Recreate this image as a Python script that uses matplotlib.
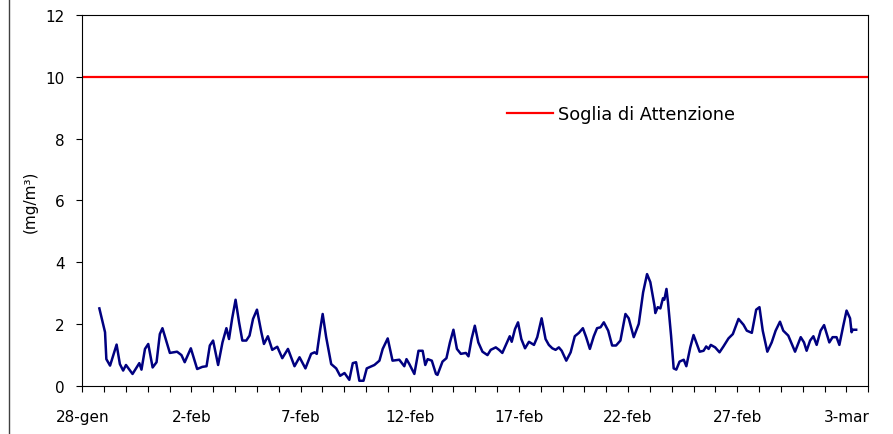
import matplotlib
matplotlib.use("Agg")
import matplotlib.pyplot as plt
from matplotlib.lines import Line2D
from matplotlib.ticker import MultipleLocator, FixedLocator

plt.rcParams['font.family'] = ['DejaVu Sans']

# days since 28-gen 00:00 and hourly concentration readings (mg/m3)
days = [0.78, 1.04, 1.10, 1.27, 1.57, 1.72, 1.87, 2.00, 2.30, 2.61, 2.71, 2.87,
        3.02, 3.22, 3.40, 3.55, 3.67, 4.01, 4.34, 4.54, 4.69, 4.97, 5.26, 5.50,
        5.69, 5.84, 5.99, 6.22, 6.42, 6.60, 6.72, 6.86, 7.02, 7.18, 7.33, 7.51,
        7.66, 7.82, 8.00, 8.20, 8.32, 8.50, 8.70, 8.93, 9.16, 9.42, 9.72, 9.95,
        10.22, 10.48, 10.64, 10.74, 10.90, 11.01, 11.17, 11.40, 11.63, 11.81,
        12.01, 12.23, 12.39, 12.54, 12.69, 12.88, 13.03, 13.38, 13.61, 13.76,
        13.99, 14.21, 14.52, 14.75, 14.85, 14.98, 15.21, 15.40, 15.59, 15.71,
        15.82, 16.01, 16.20, 16.27, 16.50, 16.68, 16.84, 17.00, 17.16, 17.34,
        17.57, 17.69, 17.83, 17.98, 18.14, 18.33, 18.56, 18.71, 18.94, 19.09,
        19.24, 19.42, 19.58, 19.67, 19.82, 19.96, 20.11, 20.28, 20.46, 20.69,
        20.84, 21.04, 21.22, 21.37, 21.53, 21.68, 21.83, 21.96, 22.17, 22.37,
        22.56, 22.75, 22.93, 23.08, 23.25, 23.43, 23.58, 23.74, 23.89, 24.09,
        24.27, 24.45, 24.65, 24.88, 25.03, 25.26, 25.49, 25.69, 25.87, 26.02,
        26.21, 26.25, 26.36, 26.48, 26.60, 26.66, 26.76, 26.83, 26.97, 27.09,
        27.21, 27.36, 27.55, 27.67, 27.85, 28.00, 28.15, 28.28, 28.46, 28.58,
        28.69, 28.79, 28.99, 29.19, 29.37, 29.60, 29.80, 30.06, 30.29, 30.44,
        30.67, 30.87, 31.02, 31.17, 31.38, 31.58, 31.76, 31.96, 32.11, 32.34,
        32.50, 32.65, 32.76, 32.91, 33.06, 33.18, 33.34, 33.49, 33.64, 33.82,
        33.98, 34.22, 34.37, 34.55, 34.68, 34.86, 35.01, 35.17, 35.24, 35.29,
        35.45]
values = [2.51, 1.74, 0.87, 0.66, 1.34, 0.71, 0.50, 0.68, 0.39, 0.74, 0.53, 1.20,
          1.36, 0.60, 0.77, 1.68, 1.87, 1.07, 1.11, 1.00, 0.77, 1.22, 0.55, 0.62,
          0.64, 1.31, 1.47, 0.68, 1.41, 1.87, 1.52, 2.17, 2.79, 2.06, 1.47, 1.47,
          1.63, 2.17, 2.47, 1.74, 1.36, 1.61, 1.17, 1.27, 0.90, 1.20, 0.64, 0.93,
          0.57, 1.04, 1.09, 1.04, 1.84, 2.33, 1.58, 0.71, 0.57, 0.33,
          0.42, 0.20, 0.74, 0.77, 0.17, 0.17, 0.57, 0.68, 0.82, 1.20,
          1.54, 0.82, 0.85, 0.64, 0.87, 0.71, 0.39, 1.14, 1.14, 0.68,
          0.87, 0.82, 0.39, 0.36, 0.79, 0.90, 1.41, 1.82, 1.20, 1.04,
          1.07, 0.96, 1.52, 1.95, 1.41, 1.11, 1.00, 1.17, 1.25, 1.17,
          1.07, 1.36, 1.61, 1.43, 1.84, 2.06, 1.52, 1.22, 1.43, 1.33,
          1.58, 2.19, 1.52, 1.33, 1.22, 1.17, 1.25, 1.14, 0.82, 1.09,
          1.61, 1.72, 1.87, 1.58, 1.20, 1.61, 1.87, 1.90, 2.06, 1.79,
          1.31, 1.31, 1.47, 2.33, 2.19, 1.58, 2.01, 3.03, 3.62, 3.36,
          2.60, 2.36, 2.55, 2.51, 2.84, 2.79, 3.14, 2.71, 1.63, 0.57,
          0.53, 0.79, 0.85, 0.64, 1.25, 1.65, 1.36, 1.11, 1.14, 1.28,
          1.20, 1.33, 1.25, 1.09, 1.28, 1.54, 1.68, 2.17, 1.98, 1.79,
          1.72, 2.47, 2.55, 1.79, 1.11, 1.41, 1.79, 2.08, 1.79, 1.63,
          1.36, 1.11, 1.31, 1.58, 1.41, 1.14, 1.47, 1.61, 1.33, 1.79,
          1.97, 1.41, 1.58, 1.58, 1.33, 1.95, 2.44, 2.19, 1.74, 1.82,
          1.82]

soglia = 10
tick_days = [0, 5, 10, 15, 20, 25, 30, 35]
tick_labels = ['28-gen', '2-feb', '7-feb', '12-feb', '17-feb', '22-feb', '27-feb', '3-mar']

fig = plt.figure(figsize=(8.93, 4.35), dpi=100)
ax = fig.add_axes([0.0922, 0.1103, 0.880, 0.853])

ax.plot(days, values, color='#000080', lw=1.8)
ax.axhline(soglia, color='#ff0000', lw=1.6, label='Soglia di Attenzione')

ax.set_xlim(0, 36)
ax.set_ylim(0, 12)
ax.yaxis.set_major_locator(MultipleLocator(2))
ax.xaxis.set_major_locator(FixedLocator(tick_days))
ax.xaxis.set_minor_locator(MultipleLocator(1))
ax.set_xticklabels(tick_labels)
ax.tick_params(axis='both', which='both', direction='out', length=4.5, width=0.8, labelsize=11)
ax.tick_params(axis='y', pad=8)
ax.tick_params(axis='x', pad=12)
ax.set_ylabel('(mg/m³)', fontsize=11, labelpad=6)

for s in ax.spines.values():
    s.set_linewidth(0.8)

ax.legend(loc='center left', bbox_to_anchor=(0.54, 0.733), frameon=False,
          fontsize=12.8, handlelength=2.6, handletextpad=0.28,
          borderpad=0, borderaxespad=0)

# left border of the chart area
fig.add_artist(Line2D([9 / 893, 9 / 893], [0, 1], color='#404040', lw=1))

fig.savefig('out.png', dpi=100)
